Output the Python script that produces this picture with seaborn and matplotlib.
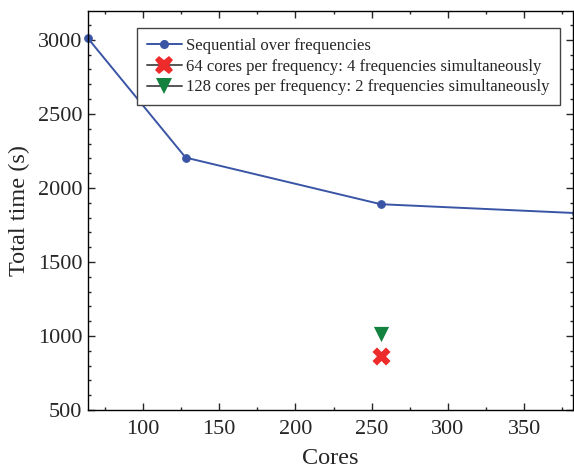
import matplotlib
matplotlib.use("Agg")
import matplotlib.pyplot as plt
from matplotlib.lines import Line2D
from matplotlib.ticker import MultipleLocator
import seaborn as sns
import pandas as pd

# Data
seq_cores = [64, 128, 256, 384]
seq_time = [3010, 2205, 1890, 1830]
x64_cores = [256]
x64_time = [868]
x128_cores = [256]
x128_time = [1012]

labels = ["Sequential over frequencies",
          "64 cores per frequency: 4 frequencies simultaneously",
          "128 cores per frequency: 2 frequencies simultaneously"]

sns.set_style("ticks")
plt.rcParams["font.family"] = ["Liberation Serif", "DejaVu Serif"]

fig = plt.figure(figsize=(5.74, 4.68), dpi=100)
ax = fig.add_axes([88/574, 1-410/468, (573-88)/574, (410-11)/468])

blue = "#3a55a5"
red = "#ee2b2b"
green = "#13823f"

df_seq = pd.DataFrame({"Cores": seq_cores, "Time": seq_time})
sns.lineplot(data=df_seq, x="Cores", y="Time", ax=ax, color=blue, lw=1.4,
             marker="o", markersize=5.5, markeredgecolor=blue, clip_on=False)
sns.scatterplot(x=x64_cores, y=x64_time, ax=ax, color=red, marker="X", s=170,
                edgecolor=red, linewidth=0, clip_on=False)
sns.scatterplot(x=x128_cores, y=x128_time, ax=ax, color=green, marker="v", s=120,
                edgecolor=green, linewidth=0, clip_on=False)

ax.set_xlim(64, 382)
ax.set_ylim(500, 3195)
ax.xaxis.set_major_locator(MultipleLocator(50))
ax.xaxis.set_minor_locator(MultipleLocator(25))
ax.yaxis.set_major_locator(MultipleLocator(500))
ax.yaxis.set_minor_locator(MultipleLocator(100))
ax.tick_params(which="both", direction="in", top=True, right=True, width=1.0)
ax.tick_params(which="major", length=5, labelsize=16)
ax.tick_params(axis="x", which="major", pad=7)
ax.tick_params(axis="y", which="major", pad=4)
ax.tick_params(which="minor", length=2.5)
for s in ax.spines.values():
    s.set_linewidth(1.0)
    s.set_color("black")

ax.set_xlabel("Cores", fontsize=17.5, labelpad=7)
ax.set_ylabel("Total time (s)", fontsize=17.5, labelpad=6)

handles = [
    Line2D([], [], color=blue, lw=1.4, marker="o", markersize=5.5),
    Line2D([], [], color="#555555", lw=1.4, marker="X", markersize=13,
           markerfacecolor=red, markeredgecolor=red, markeredgewidth=0),
    Line2D([], [], color="#555555", lw=1.4, marker="v", markersize=12,
           markerfacecolor=green, markeredgecolor=green, markeredgewidth=0),
]
leg = ax.legend(handles, labels, loc="upper left", bbox_to_anchor=(0.101, 0.957),
                borderaxespad=0, fontsize=12.0, frameon=True, fancybox=False,
                edgecolor="#444444", framealpha=1, handlelength=2.1,
                handletextpad=0.25, labelspacing=0.28, borderpad=0.6)
leg.get_frame().set_linewidth(1.0)

fig.savefig("out.png", dpi=100)
